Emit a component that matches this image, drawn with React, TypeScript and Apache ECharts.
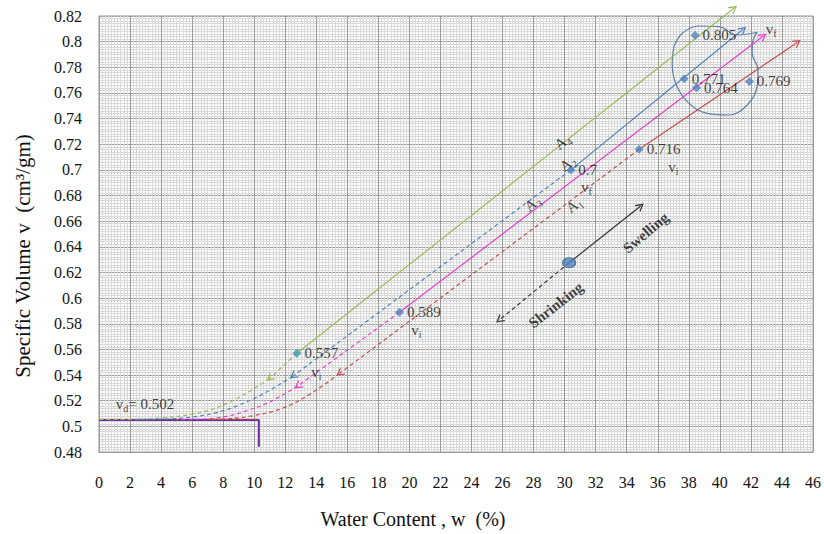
import React, { useEffect, useRef } from "react";
import * as echarts from "echarts";

const FONT = "Liberation Serif, Times New Roman, serif";

// measured points (water content %, specific volume)
const pointW = [38.4, 37.7, 38.5, 41.9, 34.8, 30.4, 19.36, 12.75];
const pointV = [0.805, 0.771, 0.764, 0.769, 0.716, 0.7, 0.589, 0.557];
const pointLabels = ["0.805", "0.771", "0.764", "0.769", "0.716", "0.7", "0.589", "0.557"];
const pointColors = ["#4F81BD", "#4F81BD", "#4F81BD", "#4F81BD", "#4F81BD", "#4F81BD", "#4F81BD", "#4198B0"];

// dry line v_d
const dryW = [0, 10.3, 10.3];
const dryV = [0.505, 0.505, 0.484];

// straight swelling (solid) segments: start -> arrow tip   (A4, A2, A3, A1)
const lineColors = ["#9BBB59", "#4F81BD", "#E83FC8", "#C0504D"];
const swellFrom = [[12.75, 0.557], [30.4, 0.7], [19.36, 0.589], [34.8, 0.716]];
const swellTo = [[40.9, 0.826], [41.5, 0.8096], [42.8, 0.8044], [45.0, 0.7995]];
// straight shrinking (dashed) segments: start -> arrow tip
const shrinkFrom = [[12.75, 0.557], [30.4, 0.7], [19.36, 0.589], [34.8, 0.716]];
const shrinkTo = [[11.0, 0.5374], [12.5, 0.5392], [12.8, 0.5314], [15.5, 0.5413]];
// dashed curves from arrow tip down to the dry line
const curveGreen = [[11.0, 0.5374], [9.3, 0.5245], [7.8, 0.5155], [6.0, 0.5095], [4.0, 0.5065], [2.0, 0.5055], [0, 0.5054]];
const curveBlue = [[12.5, 0.5392], [10.6, 0.5255], [9.0, 0.5165], [7.5, 0.5105], [5.8, 0.507], [4.0, 0.5056], [2.5, 0.5054]];
const curvePink = [[12.8, 0.5314], [11.0, 0.519], [9.6, 0.5125], [8.2, 0.5078], [6.5, 0.5056], [5.0, 0.5054]];
const curveRed = [[15.5, 0.5413], [13.7, 0.526], [11.9, 0.5145], [10.0, 0.5085], [8.4, 0.506], [7.0, 0.5054], [10.3, 0.5054]];

// hand-drawn loop around the final points
const loopPts = [
  [37.04, 0.7961], [37.58, 0.8065], [38.65, 0.8122], [39.94, 0.8117], [41.11, 0.8052],
  [42.4, 0.8073], [42.12, 0.8], [42.08, 0.7909], [42.46, 0.7779], [42.4, 0.7649],
  [41.76, 0.7506], [40.59, 0.7428], [39.18, 0.7441], [37.9, 0.7532], [37.15, 0.7675],
  [36.93, 0.7831], [37.04, 0.7961],
];

// swelling / shrinking indicator
const pivot = [30.29, 0.6276];
const swellTip = [34.9, 0.6718];
const shrinkTip = [25.79, 0.5829];

// annotation texts
const texts = [
  { at: [43.3, 0.8101], text: "{n|v}{s|f}", rot: 0 },
  { at: [31.4, 0.6868], text: "{n|v}{s|f}", rot: 0 },
  { at: [37.0, 0.7025], text: "{n|v}{s|i}", rot: 0 },
  { at: [20.45, 0.575], text: "{n|v}{s|i}", rot: 0 },
  { at: [14.0, 0.5425], text: "{n|v}{s|i}", rot: 0 },
  { at: [2.96, 0.5174], text: "{n|v}{s|d}{n|= 0.502}", rot: 0 },
  { at: [29.86, 0.722], text: "{n|A}{s|4}", rot: 38 },
  { at: [30.2, 0.705], text: "{n|A}{s|2}", rot: 38 },
  { at: [27.93, 0.6739], text: "{n|A}{s|3}", rot: 38 },
  { at: [30.6, 0.6726], text: "{n|A}{s|1}", rot: 38 },
  { at: [35.22, 0.651], text: "{b|Swelling}", rot: 40 },
  { at: [29.43, 0.5946], text: "{b|Shrinking}", rot: 38 },
];

const CHEVRON = "path://M5 0 L10 10 L8.4 10 L5 3.2 L1.6 10 L0 10 Z";

export default function App() {
  const ref = useRef<HTMLDivElement>(null);
  useEffect(() => {
    if (!ref.current) return;
    const chart = echarts.init(ref.current, undefined, { renderer: "svg" });
    const rich = {
      n: { fontFamily: FONT, fontSize: 15, color: "#111" },
      s: { fontFamily: FONT, fontSize: 10, color: "#111", padding: [9, 0, 0, 0] },
      b: { fontFamily: FONT, fontSize: 15, fontWeight: "bold", color: "#111" },
    };
    const arrowLines: any[] = [];
    for (let i = 0; i < 4; i++) {
      if (i > 0) {
        arrowLines.push([
          { coord: swellFrom[i], lineStyle: { color: lineColors[i], width: 1.2, type: "solid" } },
          { coord: swellTo[i] },
        ]);
      }
      arrowLines.push([
        { coord: shrinkFrom[i], lineStyle: { color: lineColors[i], width: 1.2, type: [4, 3] } },
        { coord: shrinkTo[i] },
      ]);
    }
    arrowLines.push([
      { coord: pivot, lineStyle: { color: "#333", width: 1.2, type: "solid" } },
      { coord: swellTip },
    ]);
    arrowLines.push([
      { coord: pivot, lineStyle: { color: "#333", width: 1.2, type: [4, 3] } },
      { coord: shrinkTip },
    ]);

    const curves = [curveGreen, curveBlue, curvePink, curveRed];
    const curveSeries = curves.map((c, i) => ({
      type: "line",
      data: c,
      smooth: 0.4,
      symbol: "none",
      lineStyle: { color: lineColors[i], width: 1.2, type: [4, 3] },
      silent: true,
      z: 3,
    }));

    chart.setOption({
      animation: false,
      grid: { left: 99, right: 10, top: 16, bottom: 82, show: true, borderColor: "#999", borderWidth: 1 },
      xAxis: {
        type: "value",
        min: 0,
        max: 46,
        interval: 2,
        axisLine: { show: true, lineStyle: { color: "#999" } },
        axisTick: { show: false },
        axisLabel: { color: "#111", fontFamily: FONT, fontSize: 16, margin: 22 },
        splitLine: { show: true, lineStyle: { color: "#9a9a9a", width: 1 } },
        minorTick: { show: false, splitNumber: 10 },
        minorSplitLine: { show: true, lineStyle: { color: "#d9d9d9", width: 1 } },
        name: "Water Content , w  (%)",
        nameLocation: "middle",
        nameGap: 57,
        nameTextStyle: { fontFamily: FONT, fontSize: 20, color: "#111", padding: [0, 86, 0, 0] },
      },
      yAxis: {
        type: "value",
        min: 0.48,
        max: 0.82,
        interval: 0.02,
        axisLine: { show: true, lineStyle: { color: "#999" } },
        axisTick: { show: false },
        axisLabel: { color: "#111", fontFamily: FONT, fontSize: 16, margin: 17 },
        splitLine: { show: true, lineStyle: { color: "#9a9a9a", width: 1 } },
        minorTick: { show: false, splitNumber: 10 },
        minorSplitLine: { show: true, lineStyle: { color: "#d9d9d9", width: 1 } },
        name: "Specific Volume v  (cm³/gm)",
        nameLocation: "middle",
        nameGap: 66,
        nameRotate: 90,
        nameTextStyle: { fontFamily: FONT, fontSize: 21, color: "#111", padding: [0, 44, 0, 0] },
      },
      series: [
        {
          type: "line",
          data: dryW.map((w, i) => [w, dryV[i]]),
          symbol: "none",
          lineStyle: { color: "#7030A0", width: 2 },
          silent: true,
          z: 2,
        },
        ...curveSeries,
        {
          id: "greenSwell",
          type: "line",
          data: [swellFrom[0], swellTo[0]],
          clip: false,
          symbol: (_v: any, p: any) => (p.dataIndex === 1 ? CHEVRON : "none"),
          symbolSize: [9, 8],
          showSymbol: true,
          itemStyle: { color: lineColors[0] },
          lineStyle: { color: lineColors[0], width: 1.2 },
          silent: true,
          z: 4,
        },
        {
          type: "line",
          data: loopPts,
          smooth: 0.4,
          symbol: "none",
          lineStyle: { color: "#5B7FA6", width: 1.2 },
          silent: true,
          z: 3,
        },
        {
          type: "line",
          data: [],
          clip: false,
          silent: true,
          markLine: {
            silent: true,
            symbol: ["none", CHEVRON],
            symbolSize: [9, 8],
            label: { show: false },
            emphasis: { disabled: true },
            data: arrowLines,
          },
          z: 4,
        },
        {
          type: "scatter",
          data: pointW.map((w, i) => ({
            value: [w, pointV[i]],
            itemStyle: { color: pointColors[i] },
            label: { formatter: pointLabels[i] },
          })),
          symbol: "diamond",
          symbolSize: 9,
          silent: true,
          z: 5,
          label: {
            show: true,
            position: "right",
            distance: 3,
            fontFamily: FONT,
            fontSize: 15,
            color: "#111",
          },
        },
        {
          type: "scatter",
          data: [pivot],
          symbol: "circle",
          symbolSize: [13, 10],
          itemStyle: { color: "#4F81BD", borderColor: "#2f5a8a", borderWidth: 1 },
          silent: true,
          z: 5,
        },
        {
          type: "scatter",
          data: texts.map((t) => ({
            value: t.at,
            label: { formatter: t.text, rotate: t.rot },
          })),
          symbolSize: 0,
          silent: true,
          z: 6,
          label: { show: true, position: "inside", rich },
        },
      ],
    } as any);

    // orient the green arrowhead (its tip lies above the plot frame)
    const p1 = chart.convertToPixel({ xAxisIndex: 0, yAxisIndex: 0 }, swellFrom[0]) as number[];
    const p2 = chart.convertToPixel({ xAxisIndex: 0, yAxisIndex: 0 }, swellTo[0]) as number[];
    const ang = (Math.atan2(p1[1] - p2[1], p2[0] - p1[0]) * 180) / Math.PI;
    chart.setOption({ series: [{ id: "greenSwell", symbolRotate: ang - 90 }] } as any);

    return () => chart.dispose();
  }, []);
  return (
    <div
      ref={ref}
      style={{ position: "fixed", left: 0, top: 0, width: 824, height: 534, background: "#fff" }}
    />
  );
}
